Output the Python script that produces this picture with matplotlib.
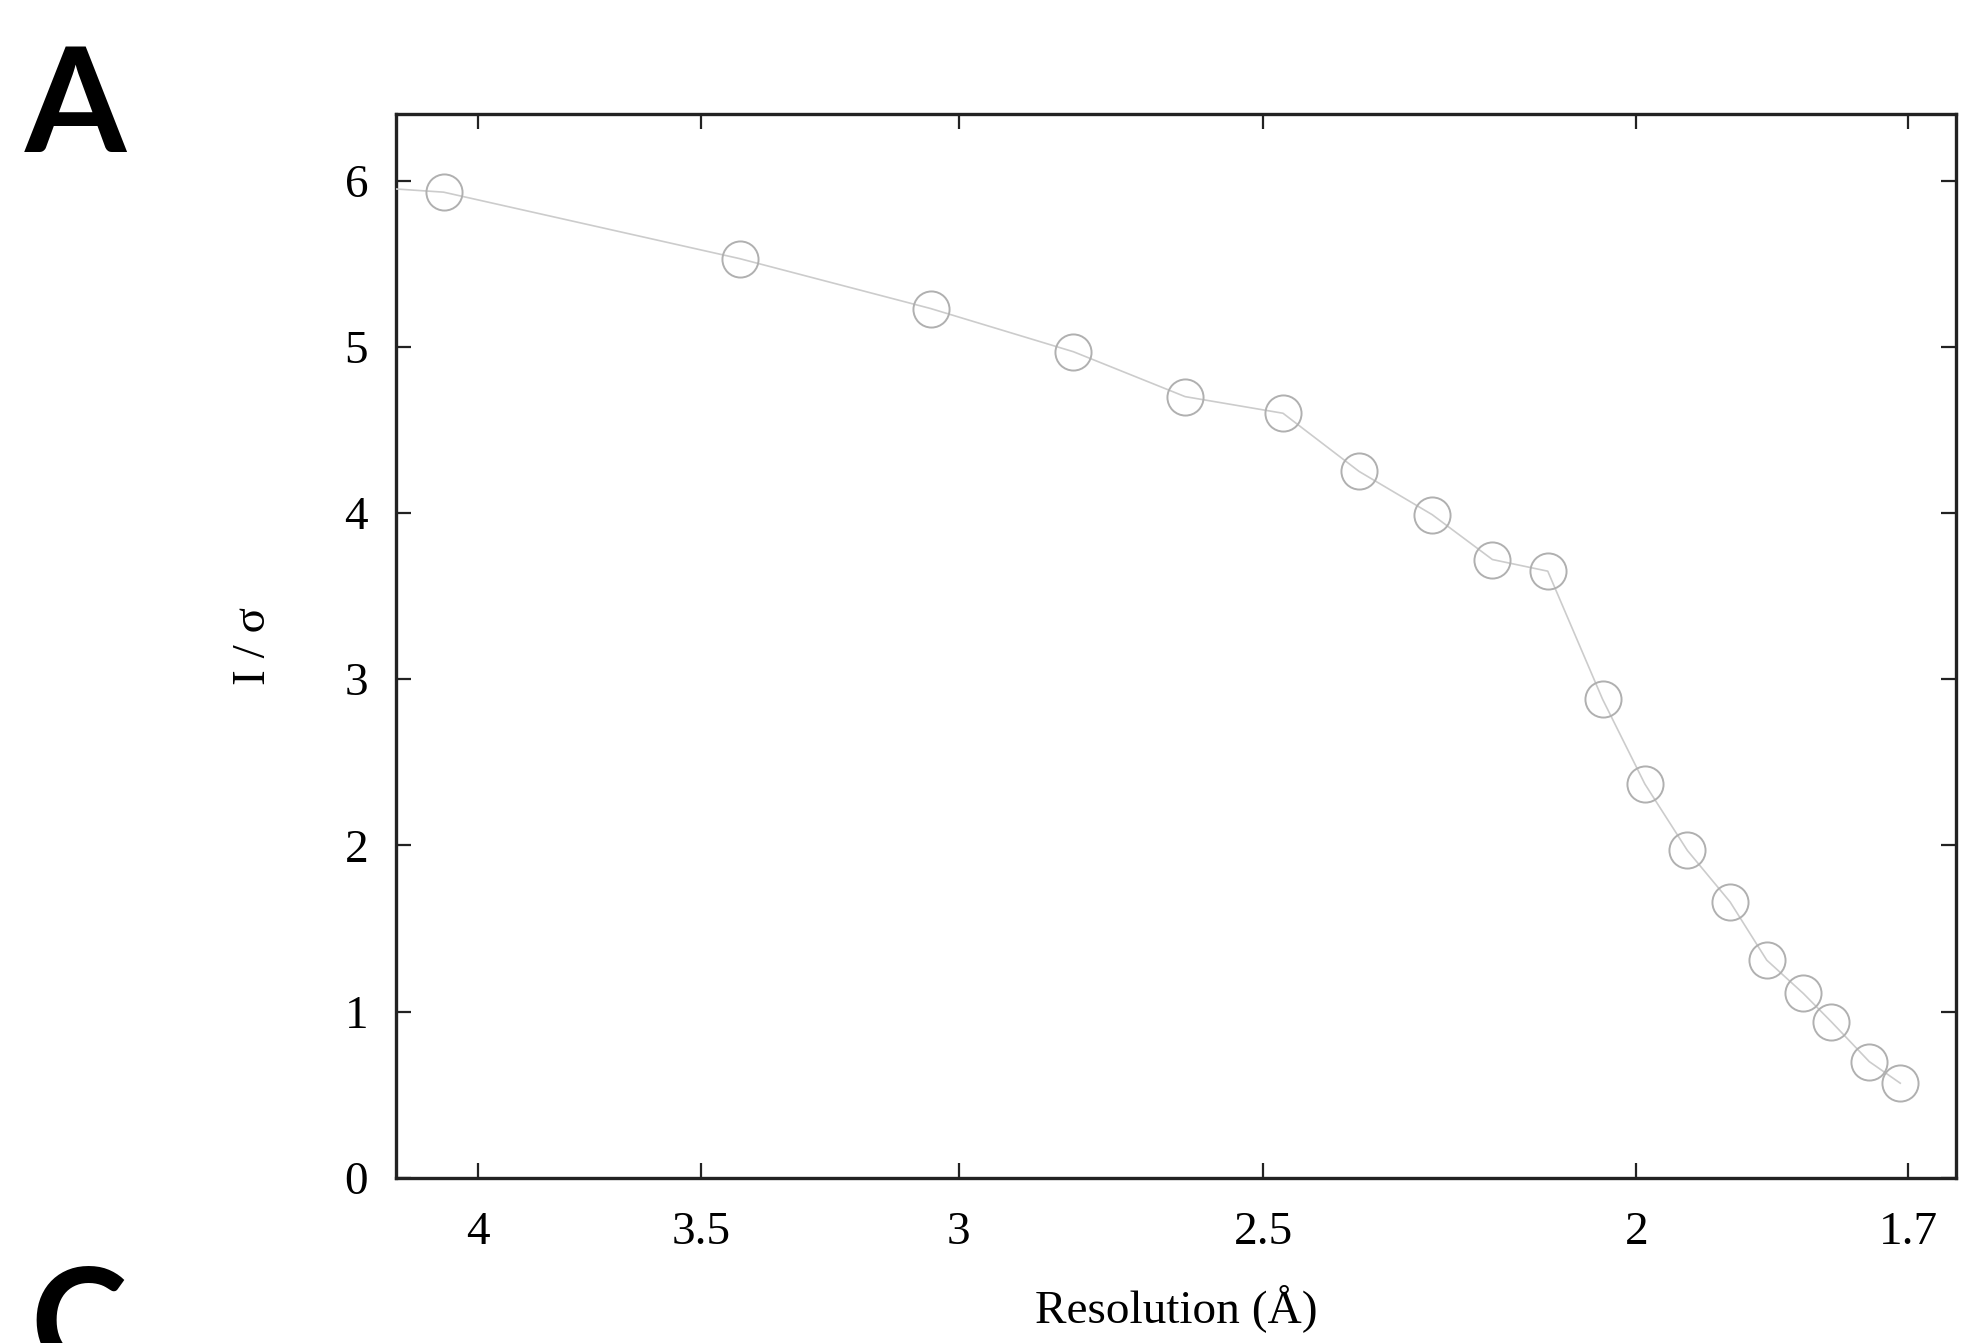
import numpy as np
import matplotlib
matplotlib.use('Agg')
import matplotlib.pyplot as plt
from matplotlib.ticker import FixedLocator, FixedFormatter, NullLocator

# Datos (resolucion en Angstrom, I/sigma)
resolucion = [4.60, 4.083, 3.420, 3.051, 2.801, 2.620, 2.471, 2.361, 2.260, 2.180,
              2.109, 2.041, 1.990, 1.940, 1.891, 1.850, 1.810, 1.780, 1.740, 1.708]
i_sigma = [6.01, 5.93, 5.53, 5.23, 4.97, 4.70, 4.60, 4.25, 3.99, 3.72,
           3.65, 2.88, 2.37, 1.97, 1.66, 1.31, 1.11, 0.94, 0.70, 0.57]

x_ticks = [4, 3.5, 3, 2.5, 2, 1.7]
x_tick_labels = ['4', '3.5', '3', '2.5', '2', '1.7']
y_ticks = [0, 1, 2, 3, 4, 5, 6]

plt.rcParams['font.family'] = ['Liberation Serif', 'DejaVu Serif']

fig = plt.figure(figsize=(19.66, 13.43), dpi=100)
ax = fig.add_axes([0.2014, 0.1229, 0.7935, 0.7922])

ax.plot(resolucion, i_sigma, color='#cccccc', lw=1.2, marker='o', ms=26,
        mfc='none', mec='#b0b0b0', mew=1.4, zorder=3)

ax.set_xscale('log')
ax.set_xlim(4.201, 1.652)
ax.set_ylim(0, 6.4)

ax.xaxis.set_major_locator(FixedLocator(x_ticks))
ax.xaxis.set_major_formatter(FixedFormatter(x_tick_labels))
ax.xaxis.set_minor_locator(NullLocator())
ax.set_yticks(y_ticks)

ax.tick_params(axis='both', which='major', direction='in', length=11, width=1.6,
               top=True, right=True, labelsize=34, color='#222222')
ax.tick_params(axis='y', pad=20)
ax.tick_params(axis='x', pad=24)
for s in ax.spines.values():
    s.set_linewidth(2.4)
    s.set_color('#222222')

ax.set_xlabel('Resolution (Å)', fontsize=34, labelpad=22)
ax.set_ylabel('I / σ', fontsize=34, labelpad=50)

# Etiquetas de panel
fig.text(0.0127, 0.967, 'A', fontsize=105, fontweight='bold', family='Lato',
         va='top', ha='left')
fig.text(0.0155, 0.058, 'C', fontsize=105, fontweight='bold', family='Lato',
         va='top', ha='left')

fig.savefig('out.png', dpi=100)
